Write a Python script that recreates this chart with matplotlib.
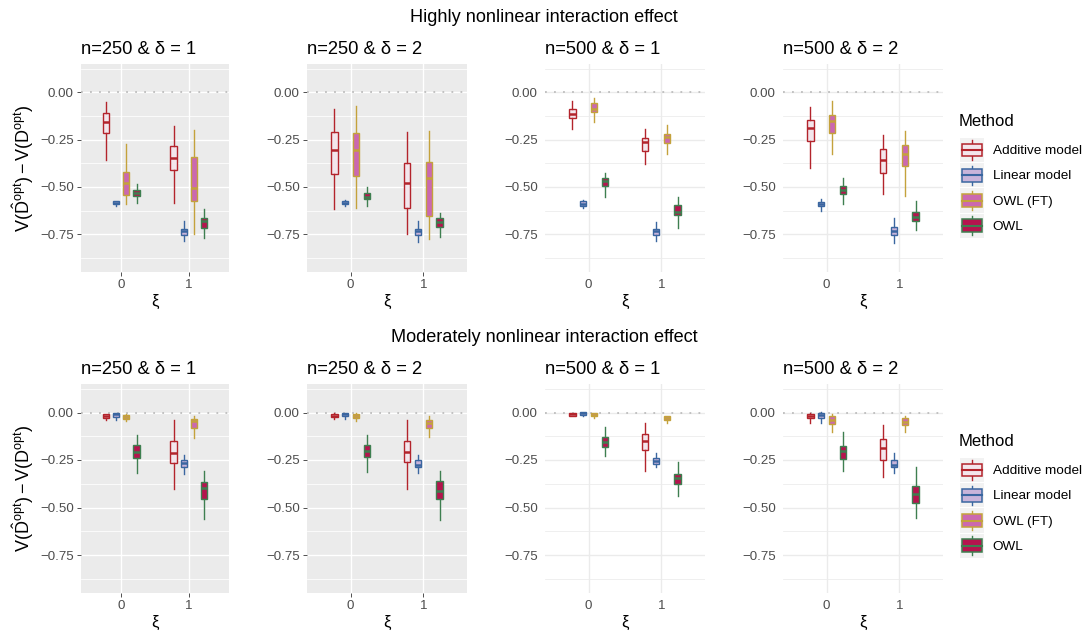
import matplotlib
matplotlib.use("Agg")
import matplotlib.pyplot as plt
from matplotlib.patches import Rectangle, Patch
from matplotlib.lines import Line2D
from matplotlib.legend_handler import HandlerBase

plt.rcParams['font.family'] = ['Liberation Sans', 'DejaVu Sans']
plt.rcParams['mathtext.fontset'] = 'custom'
plt.rcParams['mathtext.rm'] = 'Liberation Sans'
plt.rcParams['mathtext.it'] = 'Liberation Sans:italic'

# ---- data: each box is (whisker low, q1, median, q3, whisker high)
# order of boxes per method: panel 1..4, each xi=0 then xi=1
methods = ['Additive model', 'Linear model', 'OWL (FT)', 'OWL']
xi_levels = [0, 1]
panel_titles = ['n=250 & δ = 1', 'n=250 & δ = 2', 'n=500 & δ = 1', 'n=500 & δ = 2']
row_titles = ['Highly nonlinear interaction effect', 'Moderately nonlinear interaction effect']
y_ticks = [0.0, -0.25, -0.50, -0.75]
y_minor = [0.125, -0.125, -0.375, -0.625, -0.875]

high_additive = [
    (-0.358, -0.217, -0.155, -0.108, -0.049), (-0.587, -0.411, -0.349, -0.282, -0.178),
    (-0.619, -0.432, -0.307, -0.210, -0.090), (-0.749, -0.610, -0.481, -0.376, -0.210),
    (-0.192, -0.136, -0.113, -0.086, -0.048), (-0.380, -0.312, -0.262, -0.239, -0.192),
    (-0.398, -0.257, -0.188, -0.148, -0.077), (-0.540, -0.424, -0.356, -0.298, -0.224),
]
high_linear = [
    (-0.600, -0.593, -0.585, -0.577, -0.573), (-0.787, -0.755, -0.732, -0.720, -0.681),
    (-0.601, -0.593, -0.584, -0.577, -0.571), (-0.790, -0.755, -0.732, -0.720, -0.679),
    (-0.614, -0.600, -0.588, -0.576, -0.567), (-0.787, -0.755, -0.734, -0.720, -0.688),
    (-0.627, -0.602, -0.590, -0.579, -0.562), (-0.794, -0.755, -0.732, -0.711, -0.667),
]
high_owl_ft = [
    (-0.593, -0.543, -0.478, -0.423, -0.273), (-0.750, -0.575, -0.508, -0.340, -0.199),
    (-0.614, -0.443, -0.305, -0.217, -0.072), (-0.776, -0.653, -0.455, -0.367, -0.203),
    (-0.157, -0.102, -0.086, -0.056, -0.030), (-0.324, -0.266, -0.236, -0.220, -0.171),
    (-0.327, -0.215, -0.151, -0.121, -0.048), (-0.548, -0.389, -0.324, -0.276, -0.204),
]
high_owl = [
    (-0.584, -0.549, -0.531, -0.517, -0.485), (-0.772, -0.716, -0.679, -0.667, -0.616),
    (-0.600, -0.566, -0.552, -0.534, -0.499), (-0.764, -0.714, -0.684, -0.667, -0.637),
    (-0.553, -0.495, -0.468, -0.451, -0.424), (-0.715, -0.646, -0.632, -0.597, -0.553),
    (-0.593, -0.539, -0.518, -0.495, -0.451), (-0.729, -0.680, -0.658, -0.632, -0.574),
]

mod_additive = [
    (-0.037, -0.030, -0.019, -0.009, -0.006), (-0.404, -0.264, -0.211, -0.149, -0.040),
    (-0.035, -0.025, -0.016, -0.007, -0.004), (-0.403, -0.262, -0.210, -0.148, -0.039),
    (-0.020, -0.016, -0.009, -0.002, 0.000), (-0.310, -0.195, -0.148, -0.113, -0.056),
    (-0.056, -0.030, -0.018, -0.007, -0.004), (-0.342, -0.248, -0.188, -0.139, -0.065),
]
mod_linear = [
    (-0.037, -0.023, -0.009, -0.001, 0.000), (-0.322, -0.286, -0.267, -0.251, -0.223),
    (-0.035, -0.021, -0.009, -0.002, 0.000), (-0.320, -0.285, -0.275, -0.250, -0.222),
    (-0.020, -0.014, -0.005, 0.002, 0.004), (-0.289, -0.271, -0.254, -0.240, -0.213),
    (-0.056, -0.028, -0.011, -0.002, 0.002), (-0.320, -0.289, -0.275, -0.250, -0.215),
]
mod_owl_ft = [
    (-0.047, -0.033, -0.023, -0.012, -0.010), (-0.132, -0.079, -0.047, -0.035, -0.021),
    (-0.046, -0.030, -0.019, -0.009, -0.005), (-0.130, -0.081, -0.055, -0.037, -0.019),
    (-0.030, -0.019, -0.011, -0.002, 0.000), (-0.056, -0.042, -0.030, -0.019, -0.016),
    (-0.104, -0.060, -0.042, -0.021, -0.007), (-0.104, -0.065, -0.051, -0.028, -0.016),
]
mod_owl = [
    (-0.316, -0.237, -0.207, -0.172, -0.120), (-0.562, -0.457, -0.395, -0.366, -0.308),
    (-0.315, -0.234, -0.200, -0.173, -0.116), (-0.565, -0.454, -0.415, -0.363, -0.306),
    (-0.231, -0.180, -0.153, -0.130, -0.077), (-0.438, -0.377, -0.345, -0.324, -0.259),
    (-0.310, -0.245, -0.204, -0.174, -0.100), (-0.553, -0.477, -0.430, -0.389, -0.289),
]

rows = [[high_additive, high_linear, high_owl_ft, high_owl],
        [mod_additive, mod_linear, mod_owl_ft, mod_owl]]

edge_colors = ['#B3242C', '#3A66A0', '#C4A23C', '#3E7F50']
fill_colors = ['#F3E6EC', '#C8B4DA', '#CB68B0', '#B5144E']
offsets = [-0.225, -0.075, 0.075, 0.225]
box_width = 0.09

# ---- layout (pixels in the 1089x634 canvas)
W, H = 1089, 634
col_left = [81, 307, 545, 783]
col_right = [229, 467, 705, 943]
row_top = [64, 384]
row_bottom = [272, 593]
grey_cols = [0, 1]  # first two panels in each row use grey background


class BoxKey(HandlerBase):
    def create_artists(self, legend, orig_handle, xdescent, ydescent,
                       width, height, fontsize, trans):
        edge = orig_handle.get_edgecolor()
        fill = orig_handle.get_facecolor()
        x0, y0 = -xdescent, -ydescent
        bg = Rectangle((x0, y0), width, height, facecolor='#F2F2F2',
                       edgecolor='none', transform=trans)
        cx = x0 + width / 2
        wh = Line2D([cx, cx], [y0 + 0.1 * height, y0 + 0.9 * height],
                    color=edge, lw=1.0, transform=trans)
        bw, bh = 0.86 * width, 0.52 * height
        box = Rectangle((cx - bw / 2, y0 + (height - bh) / 2), bw, bh,
                        facecolor=fill, edgecolor=edge, lw=1.1, transform=trans)
        med = Line2D([cx - bw / 2, cx + bw / 2], [y0 + height / 2] * 2,
                     color=edge, lw=1.5, transform=trans)
        return [bg, wh, box, med]


fig = plt.figure(figsize=(W / 100, H / 100), dpi=100)

for r, series in enumerate(rows):
    for c in range(4):
        rect = [col_left[c] / W, 1 - row_bottom[r] / H,
                (col_right[c] - col_left[c]) / W, (row_bottom[r] - row_top[r]) / H]
        ax = fig.add_axes(rect)
        grey = c in grey_cols
        ax.set_facecolor('#EBEBEB' if grey else 'white')
        grid_col = 'white' if grey else '#EBEBEB'
        for s in ax.spines.values():
            s.set_visible(False)

        ax.set_xlim(-0.6, 1.6)
        ax.set_ylim(-0.95, 0.15)
        ax.set_xticks(xi_levels)
        ax.set_xticklabels([str(v) for v in xi_levels])
        ax.set_yticks(y_ticks)
        ax.set_yticks(y_minor, minor=True)
        ax.set_yticklabels([f'{v:.2f}'.replace('-', '\u2212') for v in y_ticks])
        ax.tick_params(which='major', length=2.75, width=0.6,
                       color='#333333' if grey else 'none',
                       labelsize=9.6, labelcolor='#4D4D4D', pad=2.5)
        ax.tick_params(which='minor', length=0)
        ax.grid(which='major', color=grid_col, lw=1.0)
        ax.grid(which='minor', axis='y', color=grid_col, lw=0.55)
        ax.set_axisbelow(True)

        ax.axhline(0, color='#BDBDBD', lw=1.3, ls=(0, (1, 4)), zorder=1.5)

        for m in range(4):
            data = series[m][2 * c:2 * c + 2]
            stats = [dict(whislo=d[0], q1=d[1], med=d[2], q3=d[3], whishi=d[4], fliers=[])
                     for d in data]
            ax.bxp(stats, positions=[x + offsets[m] for x in xi_levels],
                   widths=box_width, patch_artist=True, showcaps=False,
                   showfliers=False, manage_ticks=False,
                   boxprops=dict(facecolor=fill_colors[m], edgecolor=edge_colors[m], lw=1.0),
                   medianprops=dict(color=edge_colors[m], lw=1.8),
                   whiskerprops=dict(color=edge_colors[m], lw=1.0))

        ax.set_title(panel_titles[c], loc='left', fontsize=13.2, pad=7)
        ax.set_xlabel('ξ', fontsize=12, labelpad=2)
        if c == 0:
            ax.set_ylabel(r'$\mathrm{V}(\hat{\mathrm{D}}^{\mathrm{opt}})-\mathrm{V}(\mathrm{D}^{\mathrm{opt}})$',
                          fontsize=13, labelpad=3)

    fig.text(544 / W, 1 - (17 + 320 * r) / H, row_titles[r],
             ha='center', va='center', fontsize=13.1)

    # legend: title as its own text, keys below it
    fig.text(959 / W, 1 - (121 + 320 * r) / H, 'Method',
             ha='left', va='center', fontsize=12)
    handles = [Patch(facecolor=fill_colors[m], edgecolor=edge_colors[m], label=methods[m])
               for m in range(4)]
    fig.legend(handles=handles, loc='upper left',
               bbox_to_anchor=(960 / W, 1 - (138 + 320 * r) / H),
               frameon=False, fontsize=9.7, handler_map={Patch: BoxKey()},
               handlelength=1.78, handleheight=2.38, labelspacing=0.08,
               handletextpad=0.65, borderpad=0, borderaxespad=0)

fig.savefig('out.png', dpi=100)
